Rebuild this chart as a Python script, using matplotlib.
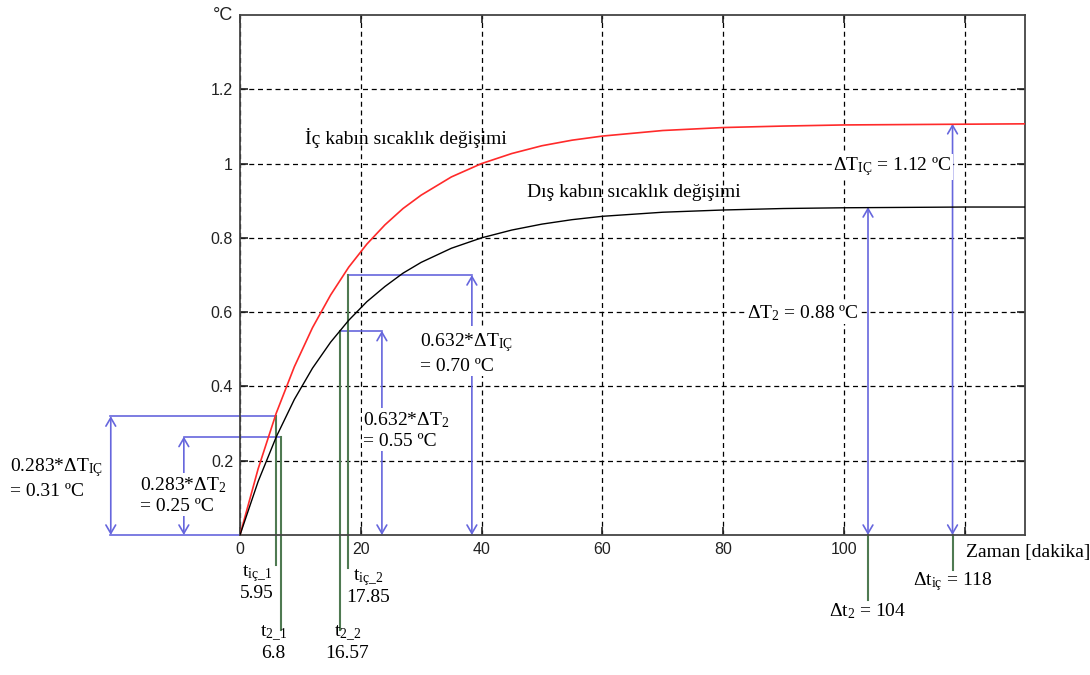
import matplotlib
matplotlib.use("Agg")
from matplotlib import pyplot as plt

# values
time = [0, 3, 6, 9, 12, 15, 18, 21, 24, 27, 30, 35, 40, 45, 50, 55, 60, 70, 80, 90, 100, 110, 120, 130]
inner = [0, 0.178, 0.328, 0.453, 0.558, 0.646, 0.721, 0.783, 0.835, 0.879, 0.915, 0.964, 1.000,
         1.027, 1.048, 1.063, 1.074, 1.089, 1.097, 1.101, 1.104, 1.105, 1.106, 1.107]
outer = [0, 0.144, 0.264, 0.365, 0.449, 0.519, 0.578, 0.628, 0.669, 0.705, 0.734, 0.772, 0.800,
         0.821, 0.837, 0.849, 0.858, 0.869, 0.875, 0.879, 0.881, 0.882, 0.883, 0.883]

xticks = [0, 20, 40, 60, 80, 100, 120]
xtick_labels = ['0', '20', '40', '60', '80', '100', '']
yticks = [0.2, 0.4, 0.6, 0.8, 1.0, 1.2]
ytick_labels = ['0.2', '0.4', '0.6', '0.8', '1', '1.2']

t_ic_1, t_2_1, t_ic_2, t_2_2 = 5.95, 6.8, 17.85, 16.57
dt_2, dt_ic = 104, 118
y283_ic, y283_2, y632_ic, y632_2 = 0.32, 0.265, 0.70, 0.55
dT_ic, dT_2 = 1.107, 0.883

blue = '#6666dd'
green = '#4f7a52'
red = '#ff2a2a'

plt.rcParams['mathtext.fontset'] = 'custom'
plt.rcParams['mathtext.rm'] = 'Liberation Serif'
plt.rcParams['mathtext.it'] = 'Liberation Serif:italic'
serif = ['Liberation Serif', 'DejaVu Serif']

fig = plt.figure(figsize=(10.9, 6.75), dpi=100, facecolor='white')
ax = fig.add_axes([240 / 1090, 140 / 675, 785 / 1090, 520 / 675])

ax.plot(time, inner, color=red, lw=1.2, zorder=3)
ax.plot(time, outer, color='black', lw=1.0, zorder=3)

ax.set_xlim(0, 130)
ax.set_ylim(0, 1.4)
ax.set_xticks(xticks)
ax.set_xticklabels(xtick_labels)
ax.set_yticks(yticks)
ax.set_yticklabels(ytick_labels)
ax.grid(True, linestyle=(0, (4, 3)), color='black', lw=0.9)
ax.tick_params(direction='in', top=True, right=True, length=6, width=1.2,
               labelsize=11.5, pad=5, colors='#222222')
for lab in ax.get_xticklabels() + ax.get_yticklabels():
    lab.set_family('Liberation Sans')
for sp in ax.spines.values():
    sp.set_color('#444444')
    sp.set_linewidth(1.3)

ax.text(-1.2, 1.0, '°C', transform=ax.get_xaxis_transform(), ha='right', va='center',
        fontsize=13, family='Liberation Sans', color='#222222', clip_on=False)
ax.text(120.3, -0.025, 'Zaman [dakika]', ha='left', va='top', fontsize=14, family=serif, clip_on=False)

ax.text(10.8, 1.069, 'İç kabın sıcaklık değişimi', ha='left', va='center', fontsize=14, family=serif)
ax.text(47.5, 0.921, 'Dış kabın sıcaklık değişimi', ha='left', va='center', fontsize=14, family=serif)


def hline(y, x0, x1):
    ax.plot([x0, x1], [y, y], color=blue, lw=1.2, clip_on=False, zorder=2)


def vline(x, y0, y1):
    ax.plot([x, x], [y0, y1], color=green, lw=1.5, clip_on=False, zorder=2)


def darrow(x, y0, y1):
    ax.annotate('', xy=(x, y1), xytext=(x, y0), annotation_clip=False,
                arrowprops=dict(arrowstyle='<->,head_length=0.6,head_width=0.35',
                                color=blue, lw=1.2, shrinkA=0, shrinkB=0), zorder=2)


box = dict(facecolor='white', edgecolor='none', pad=1)

# 0.283 levels
hline(0, -21.6, 0)
hline(y283_ic, -21.6, t_ic_1)
hline(y283_2, -9.3, t_2_1)
darrow(-21.4, 0, y283_ic)
darrow(-9.3, 0, y283_2)
ax.text(-38.1, 0.153, '0.283*ΔT$_{\\mathrm{IÇ}}$\n= 0.31 ºC', ha='left', va='center',
        fontsize=14, family=serif, linespacing=1.25, clip_on=False)
ax.text(-16.6, 0.108, '0.283*ΔT$_{2}$\n= 0.25 ºC', ha='left', va='center',
        fontsize=14, family=serif, linespacing=1.25, clip_on=False, bbox=box, zorder=4)

# 0.632 levels
hline(y632_ic, t_ic_2, 38.4)
hline(y632_2, t_2_2, 23.5)
darrow(38.4, 0, y632_ic)
darrow(23.5, 0, y632_2)
ax.text(29.8, 0.49, '0.632*ΔT$_{\\mathrm{IÇ}}$\n= 0.70 ºC', ha='left', va='center',
        fontsize=14, family=serif, linespacing=1.25, bbox=box, zorder=4)
ax.text(20.4, 0.283, '0.632*ΔT$_{2}$\n= 0.55 ºC', ha='left', va='center',
        fontsize=14, family=serif, linespacing=1.25, bbox=box, zorder=4)

# final values
darrow(dt_2, 0, dT_2)
darrow(dt_ic, 0, dT_ic)
ax.text(102.4, 0.598, 'ΔT$_{2}$ = 0.88 ºC', ha='right', va='center',
        fontsize=14, family=serif, bbox=box, zorder=4)
ax.text(117.8, 0.991, 'ΔT$_{\\mathrm{IÇ}}$ = 1.12 ºC', ha='right', va='center',
        fontsize=14, family=serif, bbox=box, zorder=4)

# time markers
vline(t_ic_1, -0.081, y283_ic)
vline(t_2_1, -0.256, y283_2)
vline(t_ic_2, -0.089, y632_ic)
vline(t_2_2, -0.256, y632_2)
vline(dt_2, -0.175, 0)
vline(dt_ic, -0.094, 0)

ax.text(2.8, -0.128, 't$_{\\mathrm{iç\\_1}}$\n5.95', ha='center', va='center', fontsize=14,
        family=serif, linespacing=1.1, clip_on=False)
ax.text(5.5, -0.29, 't$_{\\mathrm{2\\_1}}$\n6.8', ha='center', va='center', fontsize=14,
        family=serif, linespacing=1.1, clip_on=False)
ax.text(21.2, -0.138, 't$_{\\mathrm{iç\\_2}}$\n17.85', ha='center', va='center', fontsize=14,
        family=serif, linespacing=1.1, clip_on=False)
ax.text(17.8, -0.29, 't$_{\\mathrm{2\\_2}}$\n16.57', ha='center', va='center', fontsize=14,
        family=serif, linespacing=1.1, clip_on=False)
ax.text(dt_2, -0.205, 'Δt$_{2}$ = 104', ha='center', va='center', fontsize=14,
        family=serif, clip_on=False)
ax.text(dt_ic, -0.125, 'Δt$_{\\mathrm{iç}}$ = 118', ha='center', va='center', fontsize=14,
        family=serif, clip_on=False)

plt.savefig('out.png', dpi=100, facecolor='white')
